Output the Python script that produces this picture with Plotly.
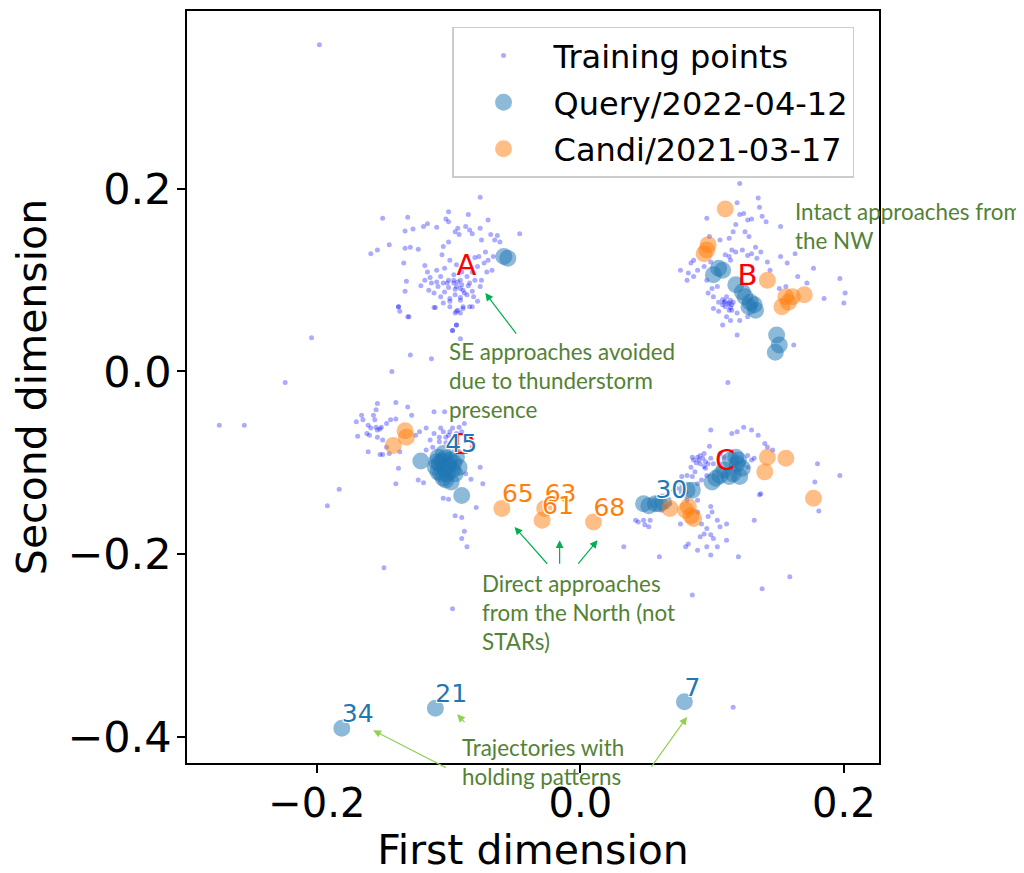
import plotly.graph_objects as go

# training points, grouped by cluster (first dim, second dim)
train_a = [
    (-0.076, 0.191), (-0.150, 0.168), (-0.131, 0.169), (-0.100, 0.175), (-0.085, 0.172), (-0.070, 0.166),
    (-0.133, 0.154), (-0.127, 0.156), (-0.119, 0.159), (-0.116, 0.162), (-0.109, 0.158), (-0.102, 0.167),
    (-0.100, 0.164), (-0.093, 0.157), (-0.095, 0.153), (-0.087, 0.159), (-0.084, 0.155), (-0.076, 0.157),
    (-0.082, 0.151), (-0.092, 0.150), (-0.068, 0.150), (-0.063, 0.149), (-0.065, 0.144), (-0.061, 0.142),
    (-0.075, 0.144), (-0.046, 0.151), (-0.159, 0.129), (-0.154, 0.133), (-0.145, 0.139), (-0.133, 0.135),
    (-0.129, 0.136), (-0.123, 0.134), (-0.105, 0.128), (-0.104, 0.137), (-0.100, 0.142), (-0.134, 0.119),
    (-0.118, 0.116), (-0.116, 0.109), (-0.114, 0.103), (-0.109, 0.111), (-0.106, 0.104), (-0.103, 0.113),
    (-0.100, 0.100), (-0.096, 0.106), (-0.091, 0.100), (-0.094, 0.093), (-0.089, 0.089), (-0.084, 0.097),
    (-0.080, 0.100), (-0.076, 0.093), (-0.078, 0.115), (-0.073, 0.119), (-0.071, 0.109), (-0.067, 0.111),
    (-0.077, 0.126), (-0.072, 0.131), (-0.080, 0.125), (-0.115, 0.089), (-0.111, 0.086), (-0.106, 0.082),
    (-0.103, 0.087), (-0.099, 0.080), (-0.095, 0.084), (-0.091, 0.081), (-0.086, 0.084), (-0.081, 0.082),
    (-0.078, 0.077), (-0.084, 0.071), (-0.089, 0.069), (-0.094, 0.066), (-0.099, 0.071), (-0.104, 0.075),
    (-0.110, 0.070), (-0.121, 0.094), (-0.132, 0.099), (-0.133, 0.088), (-0.138, 0.071), (-0.137, 0.066),
    (-0.130, 0.060), (-0.097, 0.045), (-0.094, 0.051), (-0.091, 0.064), (-0.101, 0.097), (-0.096, 0.097),
    (-0.113, 0.097), (-0.108, 0.093), (-0.091, 0.091), (-0.086, 0.104), (-0.082, 0.109), (-0.099, 0.122),
    (-0.094, 0.117), (-0.090, 0.109), (-0.109, 0.098), (-0.118, 0.100), (-0.070, 0.122), (-0.066, 0.126),
    (-0.075, 0.100), (-0.090, 0.095), (-0.093, 0.098), (-0.088, 0.086), (-0.095, 0.090), (-0.085, 0.094),
    (-0.100, 0.092), (-0.104, 0.097), (-0.096, 0.100), (-0.091, 0.078), (-0.082, 0.088),
]
train_b = [
    (0.121, 0.206), (0.119, 0.185), (0.135, 0.190), (0.124, 0.173), (0.121, 0.172), (0.127, 0.166),
    (0.130, 0.167), (0.138, 0.170), (0.141, 0.164), (0.136, 0.180), (0.152, 0.159), (0.118, 0.161),
    (0.116, 0.153), (0.096, 0.168), (0.125, 0.153), (0.128, 0.148), (0.113, 0.146), (0.098, 0.148),
    (0.106, 0.144), (0.115, 0.133), (0.118, 0.131), (0.123, 0.133), (0.127, 0.127), (0.130, 0.129),
    (0.134, 0.124), (0.137, 0.131), (0.133, 0.136), (0.113, 0.126), (0.114, 0.122), (0.110, 0.128),
    (0.086, 0.122), (0.084, 0.119), (0.076, 0.111), (0.082, 0.108), (0.081, 0.100), (0.086, 0.104),
    (0.089, 0.111), (0.094, 0.115), (0.099, 0.120), (0.096, 0.100), (0.100, 0.091), (0.104, 0.093),
    (0.097, 0.086), (0.101, 0.082), (0.105, 0.076), (0.108, 0.073), (0.110, 0.071), (0.113, 0.075),
    (0.115, 0.073), (0.114, 0.078), (0.111, 0.082), (0.109, 0.076), (0.115, 0.067), (0.119, 0.064),
    (0.105, 0.066), (0.101, 0.069), (0.111, 0.060), (0.108, 0.051), (0.114, 0.056), (0.121, 0.056),
    (0.127, 0.060), (0.119, 0.040), (0.163, 0.129), (0.165, 0.104), (0.177, 0.113), (0.197, 0.102),
    (0.201, 0.086), (0.185, 0.080), (0.200, 0.075), (0.172, 0.097), (0.142, 0.120), (0.144, 0.111),
    (0.162, 0.029), (0.151, 0.091), (0.156, 0.093), (0.157, 0.119), (0.152, 0.126),
    (0.112, 0.074), (0.110, 0.077), (0.114, 0.070), (0.108, 0.079), (0.116, 0.076), (0.113, 0.067),
]
train_d = [
    (-0.138, 0.071), (-0.131, 0.060), (-0.111, 0.070), (-0.099, 0.077), (-0.095, 0.064), (-0.093, 0.067),
    (-0.089, 0.071), (-0.082, 0.071), (-0.094, 0.051), (-0.097, 0.045), (-0.091, 0.036),
    (-0.204, 0.037), (-0.129, 0.018), (-0.113, 0.014), (-0.143, 0.000), (-0.224, -0.012),
    (-0.274, -0.059), (-0.255, -0.059),
    (-0.154, -0.035), (-0.140, -0.034), (-0.131, -0.039), (-0.128, -0.048), (-0.155, -0.042), (-0.157, -0.048),
    (-0.166, -0.048), (-0.170, -0.055), (-0.165, -0.053), (-0.161, -0.059), (-0.159, -0.062), (-0.156, -0.053),
    (-0.154, -0.064), (-0.151, -0.061), (-0.147, -0.057), (-0.144, -0.053), (-0.140, -0.052), (-0.162, -0.068),
    (-0.169, -0.071), (-0.160, -0.070), (-0.154, -0.072), (-0.150, -0.075), (-0.147, -0.083), (-0.152, -0.091),
    (-0.161, -0.088), (-0.150, -0.091), (-0.145, -0.090), (-0.137, -0.088), (-0.117, -0.062), (-0.111, -0.044),
    (-0.103, -0.044), (-0.106, -0.062), (-0.111, -0.068), (-0.107, -0.072), (-0.102, -0.072), (-0.099, -0.066),
    (-0.097, -0.062), (-0.092, -0.061), (-0.088, -0.057), (-0.094, -0.068), (-0.114, -0.075), (-0.112, -0.083),
    (-0.117, -0.086), (-0.107, -0.077), (-0.122, -0.066), (-0.125, -0.070), (-0.138, -0.106), (-0.140, -0.123),
    (-0.123, -0.119), (-0.119, -0.122), (-0.183, -0.129), (-0.192, -0.147), (-0.087, -0.112), (-0.083, -0.118),
    (-0.076, -0.105), (-0.074, -0.123), (-0.079, -0.149), (-0.095, -0.158), (-0.090, -0.160), (-0.088, -0.175),
    (-0.090, -0.183), (-0.086, -0.192), (-0.149, -0.215), (-0.104, -0.139), (-0.100, -0.140),
    (-0.100, -0.070), (-0.097, -0.074), (-0.104, -0.066), (-0.095, -0.072), (-0.102, -0.078), (-0.090, -0.066),
    (-0.152, -0.063), (-0.155, -0.061), (-0.097, -0.260),
]
train_c = [
    (0.099, -0.064), (0.115, -0.068), (0.119, -0.066), (0.130, -0.064), (0.135, -0.070), (0.140, -0.079),
    (0.142, -0.083), (0.146, -0.086), (0.124, -0.061), (0.098, -0.082), (0.094, -0.090), (0.089, -0.094),
    (0.086, -0.097), (0.091, -0.101), (0.095, -0.106), (0.084, -0.105), (0.087, -0.110), (0.099, -0.095),
    (0.101, -0.101), (0.106, -0.090), (0.109, -0.094), (0.096, -0.114), (0.092, -0.119), (0.089, -0.123),
    (0.085, -0.115), (0.081, -0.114), (0.077, -0.115), (0.075, -0.121), (0.073, -0.128), (0.071, -0.130),
    (0.080, -0.132), (0.068, -0.145), (0.065, -0.148), (0.062, -0.152), (0.081, -0.141), (0.089, -0.141),
    (0.089, -0.154), (0.099, -0.148), (0.100, -0.154), (0.097, -0.159), (0.092, -0.167), (0.096, -0.172),
    (0.094, -0.178), (0.091, -0.181), (0.099, -0.179), (0.101, -0.183), (0.106, -0.170), (0.111, -0.167),
    (0.104, -0.163), (0.111, -0.185), (0.104, -0.192), (0.096, -0.192), (0.089, -0.196), (0.082, -0.189),
    (0.080, -0.192), (0.099, -0.201), (0.120, -0.203), (0.132, -0.163), (0.137, -0.134), (0.127, -0.105),
    (0.130, -0.097), (0.180, -0.101), (0.178, -0.121), (0.159, -0.225), (0.060, -0.203), (0.033, -0.192),
    (0.044, -0.165), (0.049, -0.168), (0.052, -0.170), (0.048, -0.163), (0.053, -0.163), (0.042, -0.163),
    (0.090, -0.097), (0.093, -0.095), (0.088, -0.100), (0.095, -0.099), (0.091, -0.092), (0.097, -0.101),
    (0.085, -0.094), (0.094, -0.104), (0.076, -0.167), (0.138, -0.238), (0.085, -0.245), (0.116, -0.368),
    (0.132, -0.095), (0.127, -0.092), (0.197, -0.114), (0.181, -0.153), (0.136, -0.135), (0.112, -0.012),
]
train_other = [(-0.198, 0.358)]

query_pts = [
    (-0.058, 0.126), (-0.055, 0.124),
    (0.105, 0.113), (0.108, 0.111), (0.101, 0.106), (0.118, 0.095), (0.123, 0.087), (0.125, 0.082),
    (0.129, 0.076), (0.132, 0.073), (0.133, 0.067), (0.128, 0.071), (0.149, 0.040), (0.151, 0.029),
    (0.148, 0.021),
    (-0.121, -0.098), (-0.104, -0.090), (-0.107, -0.101), (-0.106, -0.112), (-0.102, -0.119),
    (-0.098, -0.121), (-0.097, -0.108), (-0.094, -0.094), (-0.099, -0.097), (-0.103, -0.106),
    (-0.092, -0.105), (-0.090, -0.136), (-0.1025, -0.095), (-0.110, -0.105), (-0.108, -0.094),
    (-0.108, -0.110), (-0.105, -0.098), (-0.101, -0.112), (-0.096, -0.100), (-0.100, -0.103),
    (-0.104, -0.117), (-0.109, -0.099), (-0.095, -0.112),
    (0.103, -0.117), (0.106, -0.114), (0.109, -0.108), (0.113, -0.115), (0.116, -0.112), (0.119, -0.101),
    (0.120, -0.097), (0.123, -0.106), (0.121, -0.115), (0.118, -0.094), (0.114, -0.097), (0.100, -0.121),
    (0.085, -0.130), (0.081, -0.130), (0.048, -0.145), (0.052, -0.147), (0.057, -0.145), (0.060, -0.145),
    (0.063, -0.143),
    (-0.181, -0.391), (-0.110, -0.369), (0.079, -0.362),
]
candi_pts = [
    (0.110, 0.178), (0.097, 0.139), (0.094, 0.129), (0.096, 0.133), (0.142, 0.100), (0.156, 0.082),
    (0.161, 0.082), (0.170, 0.084), (0.153, 0.071), (0.158, 0.076),
    (-0.142, -0.081), (-0.133, -0.065), (-0.132, -0.072),
    (-0.0595, -0.150), (-0.027, -0.150), (-0.029, -0.163), (0.010, -0.165),
    (0.142, -0.094), (0.156, -0.095), (0.140, -0.110), (0.177, -0.139), (0.068, -0.150), (0.080, -0.152),
    (0.084, -0.158), (0.086, -0.161), (0.082, -0.148),
]

# numbered trajectories
query_lbl_x = [-0.1025, 0.057, -0.181, -0.110, 0.079]
query_lbl_y = [-0.095, -0.145, -0.391, -0.369, -0.362]
query_lbl = ["45", "30", "34", "21", "7"]
candi_lbl_x = [-0.0595, -0.027, -0.029, 0.010]
candi_lbl_y = [-0.150, -0.150, -0.163, -0.165]
candi_lbl = ["65", "63", "61", "68"]

# cluster letters
cl_x = [-0.0865, 0.1268, 0.110, -0.088]
cl_y = [0.1134, 0.1031, -0.1003, -0.0827]
cl_txt = ["A", "B", "C", "D"]

BLUE = "#1f77b4"
ORANGE = "#ff7f0e"
GREEN_TXT = "#548235"

train_all = train_a + train_b + train_d + train_c + train_other

fig = go.Figure()
fig.add_trace(go.Scatter(
    x=[p[0] for p in train_all], y=[p[1] for p in train_all], mode="markers",
    name="Training points", legendgroup="t",
    marker=dict(color="blue", size=5, opacity=0.33, line=dict(width=0)),
))
fig.add_trace(go.Scatter(
    x=[p[0] for p in query_pts], y=[p[1] for p in query_pts], mode="markers",
    name="Query/2022-04-12", legendgroup="q",
    marker=dict(color=BLUE, size=15, opacity=0.5, line=dict(color=BLUE, width=2)),
))
fig.add_trace(go.Scatter(
    x=[p[0] for p in candi_pts], y=[p[1] for p in candi_pts], mode="markers",
    name="Candi/2021-03-17", legendgroup="c",
    marker=dict(color=ORANGE, size=15, opacity=0.5, line=dict(color=ORANGE, width=2)),
))
fig.add_trace(go.Scatter(
    x=cl_x, y=cl_y, text=cl_txt, mode="text", textposition="middle center",
    textfont=dict(family="DejaVu Sans", size=29, color="red"), showlegend=False,
))
outline = "1px 1px 0px white, -1px -1px 0px white, 1px -1px 0px white, -1px 1px 0px white"
fig.add_trace(go.Scatter(
    x=candi_lbl_x, y=candi_lbl_y, text=candi_lbl, mode="text", textposition="top right",
    textfont=dict(family="DejaVu Sans", size=25, color=ORANGE, shadow=outline), showlegend=False,
))
fig.add_trace(go.Scatter(
    x=query_lbl_x, y=query_lbl_y, text=query_lbl, mode="text", textposition="top right",
    textfont=dict(family="DejaVu Sans", size=25, color=BLUE, shadow=outline), showlegend=False,
))

# green notes
notes = [
    ("Intact approaches from<br>the NW", 0.1617, 0.159),
    ("SE approaches avoided<br>due to thunderstorm<br>presence", -0.1009, -0.0094),
    ("Direct approaches<br>from the North (not<br>STARs)", -0.0759, -0.2638),
    ("Trajectories with<br>holding patterns", -0.0911, -0.4283),
]
for txt, nx, ny in notes:
    fig.add_annotation(x=nx, y=ny, xref="x", yref="y", text=txt, showarrow=False,
                       xanchor="left", yanchor="middle", align="left",
                       font=dict(family="Lato", size=22.4, color=GREEN_TXT))

# arrows: (head x, head y, tail x, tail y, colour)
arrows = [
    (-0.0721, 0.0860, -0.0478, 0.0399, "#00b050"),
    (-0.0499, -0.1703, -0.0241, -0.2123, "#00b050"),
    (-0.0157, -0.1849, -0.0157, -0.2123, "#00b050"),
    (0.0131, -0.1849, -0.0025, -0.2123, "#00b050"),
    (-0.1572, -0.3932, -0.1009, -0.4349, "#92d050"),
    (-0.0935, -0.3757, -0.0868, -0.3859, "#92d050"),
    (0.0810, -0.3786, 0.0531, -0.4349, "#92d050"),
]
for hx, hy, tx, ty, col in arrows:
    fig.add_annotation(x=hx, y=hy, ax=tx, ay=ty, xref="x", yref="y", axref="x", ayref="y",
                       text="", showarrow=True, arrowhead=2, arrowsize=1.3, arrowwidth=1.2,
                       arrowcolor=col, standoff=0, startstandoff=0)

axis_common = dict(
    showgrid=False, zeroline=False, showline=True, linecolor="black", linewidth=1.5,
    mirror=True, ticks="outside", ticklen=8, tickwidth=1.5, tickcolor="black", automargin=False,
)
fig.update_xaxes(range=[-0.2985, 0.2267], tickvals=[-0.2, 0.0, 0.2], tickformat=".1f",
                 tickfont=dict(family="DejaVu Sans", size=40, color="black"), ticklabelstandoff=-4,
                 title=dict(text="First dimension", standoff=2,
                            font=dict(family="DejaVu Sans", size=41, color="black")),
                 **axis_common)
fig.update_yaxes(range=[-0.429, 0.395], tickvals=[-0.4, -0.2, 0.0, 0.2], tickformat=".1f",
                 tickfont=dict(family="DejaVu Sans", size=43, color="black"), ticklabelstandoff=-3,
                 title=dict(text="Second dimension", standoff=14,
                            font=dict(family="DejaVu Sans", size=41, color="black")),
                 **axis_common)

fig.update_layout(
    width=1024, height=873,
    margin=dict(l=179, r=153, t=3, b=118),
    plot_bgcolor="white", paper_bgcolor="white",
    legend=dict(x=0.383, y=0.979, xanchor="left", yanchor="top",
                bgcolor="rgba(255,255,255,0.8)", bordercolor="#cccccc", borderwidth=1.5,
                font=dict(family="DejaVu Sans", size=32, color="black"), itemwidth=90,
                tracegroupgap=2),
)

fig.write_html("out.html")
